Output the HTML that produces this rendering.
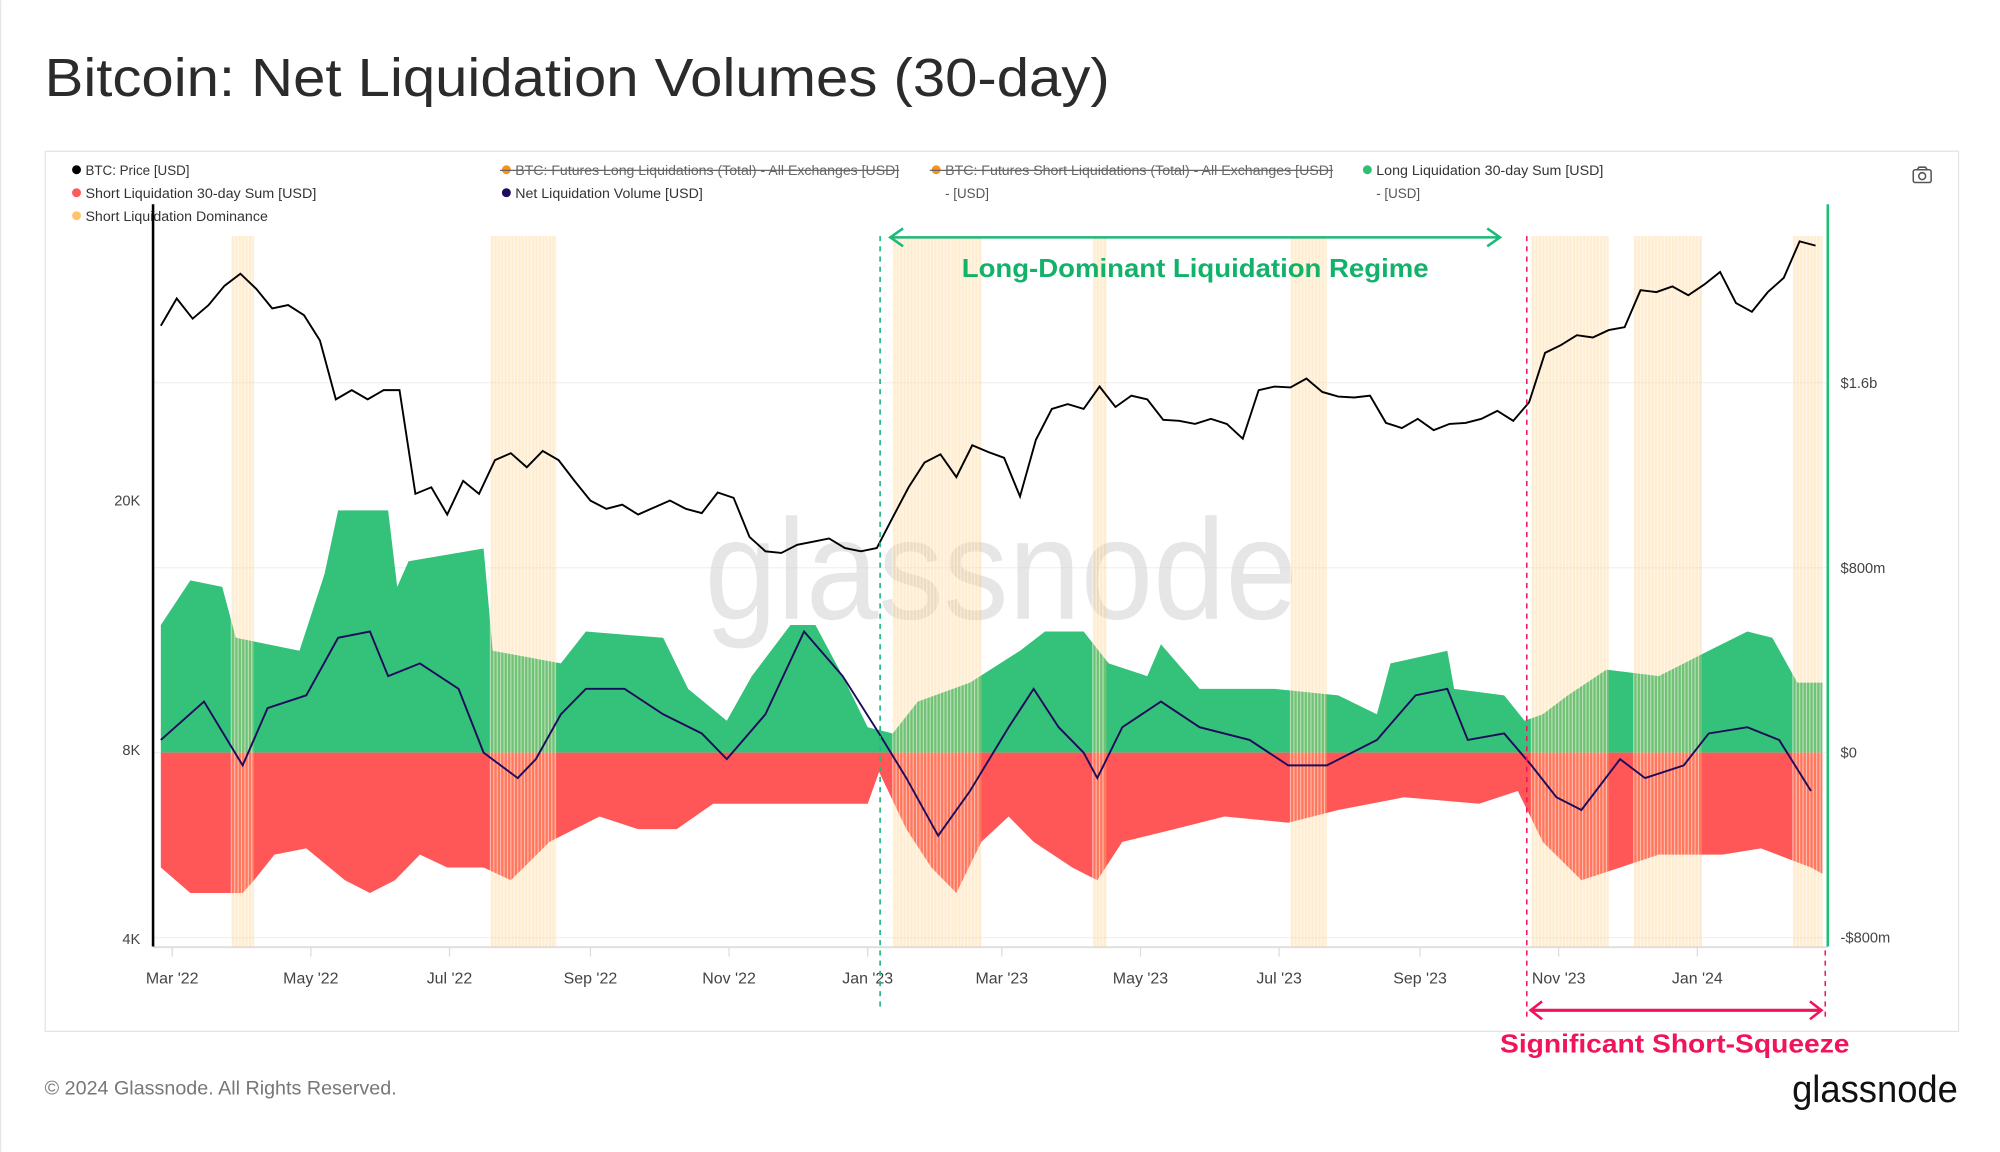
<!DOCTYPE html>
<html><head><meta charset="utf-8">
<style>
html,body{margin:0;padding:0;background:#fff;}
svg{display:block;font-family:"Liberation Sans",sans-serif;}
</style></head>
<body>
<svg id="chart" width="2000" height="1152" viewBox="0 0 1568 903" xmlns="http://www.w3.org/2000/svg">
<rect x="0" y="0" width="1568" height="903" fill="#fff"/>
<line x1="0.5" y1="0" x2="0.5" y2="903" stroke="#e6e6e6"/>
<text x="35" y="75" font-size="42" fill="#2b2b2b" textLength="835" lengthAdjust="spacingAndGlyphs">Bitcoin: Net Liquidation Volumes (30-day)</text>
<rect x="35.5" y="118.5" width="1500" height="690" fill="#fff" stroke="#e4e4e4"/>
<g id="legend" font-size="10.5" fill="#333">
 <g><circle cx="60" cy="133" r="3.5" fill="#000"/><text x="67" y="137">BTC: Price [USD]</text></g>
 <g><circle cx="397" cy="133" r="3.5" fill="#f7931a"/><text x="404" y="137" fill="#666" textLength="301" lengthAdjust="spacingAndGlyphs">BTC: Futures Long Liquidations (Total) - All Exchanges [USD]</text><line x1="392" y1="133.5" x2="705" y2="133.5" stroke="#666"/></g>
 <g><circle cx="734" cy="133" r="3.5" fill="#f7931a"/><text x="741" y="137" fill="#666" textLength="304" lengthAdjust="spacingAndGlyphs">BTC: Futures Short Liquidations (Total) - All Exchanges [USD]</text><line x1="729" y1="133.5" x2="1045" y2="133.5" stroke="#666"/><text x="741" y="155" fill="#555">- [USD]</text></g>
 <g><circle cx="1072" cy="133" r="3.5" fill="#2fbf71"/><text x="1079" y="137" textLength="178" lengthAdjust="spacingAndGlyphs">Long Liquidation 30-day Sum [USD]</text><text x="1079" y="155" fill="#555">- [USD]</text></g>
 <g><circle cx="60" cy="151" r="3.5" fill="#ff5a5a"/><text x="67" y="155" textLength="181" lengthAdjust="spacingAndGlyphs">Short Liquidation 30-day Sum [USD]</text></g>
 <g><circle cx="397" cy="151" r="3.5" fill="#1e0b5c"/><text x="404" y="155" textLength="147" lengthAdjust="spacingAndGlyphs">Net Liquidation Volume [USD]</text></g>
 <g><circle cx="60" cy="169" r="3.5" fill="#ffc46b"/><text x="67" y="173" textLength="143" lengthAdjust="spacingAndGlyphs">Short Liquidation Dominance</text></g>
</g>
<g fill="none" stroke="#555" stroke-width="1.2"><rect x="1500" y="133" width="14" height="10" rx="1.5"/><circle cx="1507" cy="138" r="2.7"/><path d="M1503 133 l1.5 -2 h5 l1.5 2"/></g>
<line x1="120" y1="742.5" x2="1433" y2="742.5" stroke="#ddd" stroke-width="1.5"/>
<g id="grid"></g>
<text x="785" y="485" font-size="112" fill="#d6d6d6" text-anchor="middle" opacity="0.6" textLength="465" lengthAdjust="spacingAndGlyphs">glassnode</text>
<g id="areas"></g>
<g id="bands"></g>
<g id="lines"></g>
<g id="axes"></g>
<line x1="120" y1="160" x2="120" y2="742" stroke="#000" stroke-width="2"/>
<line x1="1433" y1="160" x2="1433" y2="742" stroke="#1dbf73" stroke-width="2"/>
<g>
 <line x1="690" y1="185" x2="690" y2="792" stroke="#1db97a" stroke-width="1.3" stroke-dasharray="4,4"/>
 <line x1="698" y1="186" x2="1176" y2="186" stroke="#1db97a" stroke-width="2"/>
 <path d="M708 179 L698 186 L708 193 M1166 179 L1176 186 L1166 193" fill="none" stroke="#1db97a" stroke-width="2"/>
 <text x="937" y="217" font-size="20" font-weight="bold" fill="#12b26a" text-anchor="middle" textLength="366" lengthAdjust="spacingAndGlyphs">Long-Dominant Liquidation Regime</text>
</g>
<g>
 <line x1="1197" y1="185" x2="1197" y2="800" stroke="#f0145a" stroke-width="1.2" stroke-dasharray="4,4"/>
 <line x1="1431" y1="745" x2="1431" y2="800" stroke="#f0145a" stroke-width="1.2" stroke-dasharray="4,4"/>
 <line x1="1201" y1="792" x2="1427" y2="792" stroke="#f0145a" stroke-width="2.4"/>
 <path d="M1209 785 L1200 792 L1209 799 M1419 785 L1428 792 L1419 799" fill="none" stroke="#f0145a" stroke-width="2"/>
 <text x="1313" y="825" font-size="20" font-weight="bold" fill="#f0145a" text-anchor="middle" textLength="274" lengthAdjust="spacingAndGlyphs">Significant Short-Squeeze</text>
</g>
<text x="35" y="858" font-size="15" fill="#777" textLength="276" lengthAdjust="spacingAndGlyphs">© 2024 Glassnode. All Rights Reserved.</text>
<text x="1535" y="864" font-size="30" fill="#111" text-anchor="end" textLength="130" lengthAdjust="spacingAndGlyphs">glassnode</text>
</svg>
<script>
// day 0 = 1 Mar 2022
const priceStartDay = -5;
const priceStepDays = 7;
const priceUSD = [38000,42000,39000,41000,44000,46000,43500,40500,41000,39500,36000,29000,30000,29000,30000,30000,20500,21000,19000,21500,20500,23200,23800,22600,24000,23200,21500,20000,19400,19700,19000,19500,20000,19400,19100,20600,20200,17500,16600,16500,17000,17200,17400,16800,16600,
16800,18800,21000,23000,23700,21800,24500,23900,23400,20300,25000,28000,28500,28000,30400,28200,29400,29000,26900,26800,26500,27000,26500,25100,30000,30400,30300,31300,29800,29300,29200,29400,26600,26100,27000,25900,26500,26600,27000,27800,26800,28700,34400,35400,36700,36400,37400,37800,43300,43000,43900,42500,
44200,46300,41300,40000,43000,45300,51800,51000];
const longDays = [-5,8,22,28,42,56,67,73,95,99,104,137,141,171,182,216,227,244,255,272,283,295,306,317,328,351,373,384,401,412,429,435,452,485,513,530,536,561,564,586,595,603,614,631,654,676,693,704,715,726];
const longSumM = [552,745,717,497,469,441,772,1048,1048,717,828,883,441,386,524,497,276,138,331,552,552,331,110,83,221,303,441,524,524,386,331,469,276,276,248,166,386,441,276,248,138,166,248,359,331,441,524,497,303,303];
const shortDays = [-5,8,31,36,45,59,76,87,98,109,121,137,149,166,188,205,222,238,272,306,311,323,334,345,356,368,379,396,407,418,441,463,491,513,542,575,592,603,620,637,654,682,699,721,726];
const shortSumM = [-497,-607,-607,-552,-441,-414,-552,-607,-552,-441,-497,-497,-552,-386,-276,-331,-331,-221,-221,-221,-83,-331,-497,-607,-386,-276,-386,-497,-552,-386,-331,-276,-303,-248,-193,-221,-166,-386,-552,-497,-441,-441,-414,-497,-524];
const netDays = [-5,14,31,42,59,73,87,95,109,126,137,152,160,171,182,199,216,233,244,261,278,295,311,323,337,351,368,379,390,401,407,418,435,452,474,491,508,530,547,561,570,586,598,609,620,637,648,665,676,693,707,721];
const netVolM = [55,221,-55,193,248,497,524,331,386,276,0,-110,-28,166,276,276,166,83,-28,166,524,331,83,-110,-359,-166,110,276,110,0,-110,110,221,110,55,-55,-55,55,248,276,55,83,-55,-193,-248,-28,-110,-55,83,110,55,-166];
const domStartDays = [26,140,317,405,492,598,643,713];
const domEndDays = [36,169,356,411,508,632,673,726];
const xTickLabels = ["Mar '22","May '22","Jul '22","Sep '22","Nov '22","Jan '23","Mar '23","May '23","Jul '23","Sep '23","Nov '23","Jan '24"];
const xTickDays = [0,61,122,184,245,306,365,426,487,549,610,671];
const leftTickLabels = ["4K","8K","20K"];
const leftTickValues = [4000,8000,20000];
const rightTickLabels = ["-$800m","$0","$800m","$1.6b"];
const rightTickValues = [-800,0,800,1600];

const NS = "http://www.w3.org/2000/svg";
const X = d => 135 + 1.782 * d;
const YP = p => 736 - 148 * Math.log2(p / 4000);
const YV = m => 590 - m * 145 / 800;
function mk(tag, attrs, parent){const e=document.createElementNS(NS,tag);for(const k in attrs)e.setAttribute(k,attrs[k]);parent.appendChild(e);return e;}
const areas=document.getElementById('areas'), bands=document.getElementById('bands'), lines=document.getElementById('lines'), axes=document.getElementById('axes'), grid=document.getElementById('grid');

rightTickValues.forEach(v=>{
  const g=mk('line',{x1:120,x2:1433,y1:YV(v),y2:YV(v),stroke:'#f1f1f1'},grid);
  
  
});

function areaPath(days, vals){
  let d=`M${X(days[0])},${YV(0)}`;
  days.forEach((dd,i)=>{d+=` L${X(dd)},${YV(vals[i])}`;});
  d+=` L${X(days[days.length-1])},${YV(0)} Z`;
  return d;
}
const la=mk('path',{d:areaPath(longDays,longSumM),fill:'#34c27a'},areas);


const sa=mk('path',{d:areaPath(shortDays,shortSumM),fill:'#ff5757'},areas);



domStartDays.forEach((s,i)=>{
  const b=mk('rect',{x:X(s),y:185,width:Math.max(2,X(domEndDays[i])-X(s)),height:742-185,fill:'#ffc46b',opacity:0.3},bands);
  
  
  for(let dd=s; dd<domEndDays[i]; dd+=1.5){
    const l=mk('line',{x1:X(dd),x2:X(dd),y1:185,y2:742,stroke:'#fff',opacity:0.5,'stroke-width':0.9},bands);
    
    
  }
});

const np=mk('polyline',{points:netDays.map((d,i)=>`${X(d)},${YV(netVolM[i])}`).join(' '),fill:'none',stroke:'#1e0b5c','stroke-width':1.5},lines);


const pp=mk('polyline',{points:priceUSD.map((p,i)=>`${X(priceStartDay+i*priceStepDays)},${YP(p)}`).join(' '),fill:'none',stroke:'#000','stroke-width':1.5},lines);



xTickDays.forEach((d,i)=>{
  const t=mk('text',{x:X(d),y:771,'font-size':12.5,fill:'#444','text-anchor':'middle'},axes);
  t.textContent=xTickLabels[i];
  
  
  const tk=mk('line',{x1:X(d),x2:X(d),y1:743,y2:750,stroke:'#ddd'},axes);
  
  
});
leftTickValues.forEach((v,i)=>{
  const t=mk('text',{x:110,y:YP(v)+4,'font-size':11.5,fill:'#444','text-anchor':'end'},axes);
  t.textContent=leftTickLabels[i];
  
  
});
rightTickValues.forEach((v,i)=>{
  const t=mk('text',{x:1443,y:YV(v)+4,'font-size':11.5,fill:'#444'},axes);
  t.textContent=rightTickLabels[i];
  
  
});
</script>
</body></html>
